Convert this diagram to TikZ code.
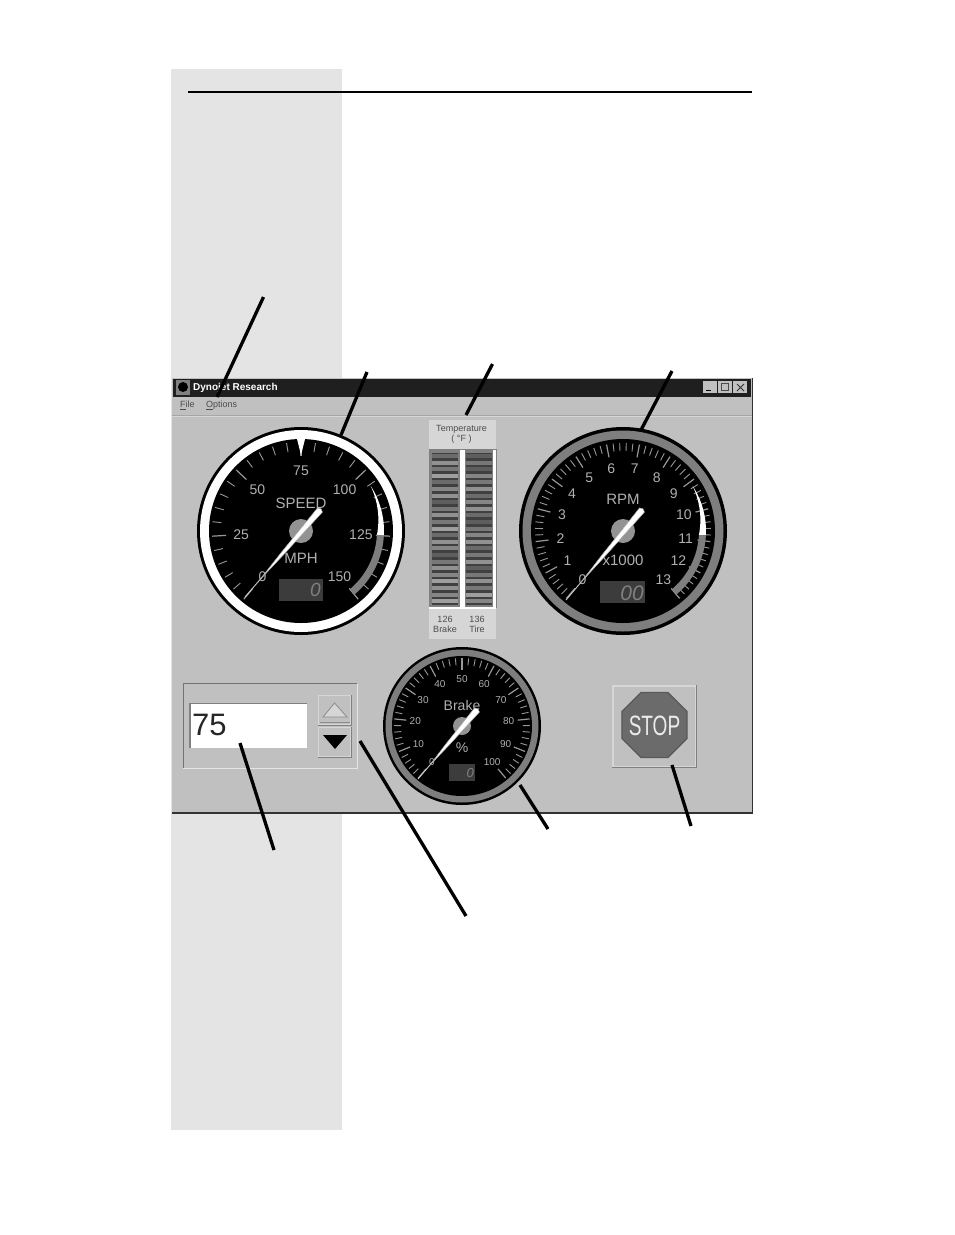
\documentclass[tikz,border=0pt]{standalone}
\usepackage{fontspec}
\usepackage{graphicx}
\setmainfont{Liberation Sans}
\usetikzlibrary{calc,shapes.geometric}
\definecolor{winbg}{HTML}{C0C0C0}
\definecolor{winlight}{HTML}{D6D6D6}
\definecolor{panelbg}{HTML}{E4E4E4}
\definecolor{dial}{HTML}{B0B0B0}
\definecolor{tickc}{HTML}{989898}
\definecolor{ringgray}{HTML}{7E7E7E}
\definecolor{lcd}{HTML}{3C3C3C}
\definecolor{lcdtxt}{HTML}{808080}
\newcommand{\fsz}[1]{\fontsize{#1}{#1}\selectfont}
\tikzset{
  callout/.style={line width=3.3pt,black,line cap=butt},
  dialtext/.style={text=dial,inner sep=0pt},
  lcdtext/.style={text=lcdtxt,inner sep=0pt},
  wintext/.style={text=black!70,inner sep=0pt,align=center},
  minortick/.style={draw=tickc,line width=.9pt},
  majortick/.style={draw=tickc,line width=1.2pt},
  handbody/.style={fill=white,draw=gray!70,line width=.5pt},
  lcdbox/.style={fill=lcd,draw=none,inner sep=0pt},
}
% ticks: intervals, every, minor in, major in, out
\newcommand{\gticks}[5]{%
  \foreach \i in {0,...,#1}{%
    \pgfmathsetmacro\a{230-(280/#1)*\i}%
    \pgfmathtruncatemacro\m{mod(\i,#2)}%
    \ifnum\m=0
      \draw[majortick] (-\a:#4) -- (-\a:#5);
    \else
      \draw[minortick] (-\a:#3) -- (-\a:#5);
    \fi}}
% hand: name, tail, tip
\newcommand{\ghand}[3]{%
  \coordinate (#1t) at (#2); \coordinate (#1p) at (#3);
  \draw[white!80!black,line width=.9pt] (#1t) -- ($(#1t)!.3!(#1p)$);
  \draw[handbody] ($(#1t)!.2!(#1p)$)
    -- ($(#1t)!.5!(#1p)!1.6pt!90:(#1p)$)
    -- ($(#1p)!3.2pt!-90:(#1t)$)
    -- ($(#1p)!1.5pt!180:(#1t)$)
    -- ($(#1p)!3.2pt!90:(#1t)$)
    -- ($(#1t)!.5!(#1p)!1.6pt!-90:(#1p)$)
    -- cycle;
}
% red zone: radius, white from, white to, gray to, maxwidth
\newcommand{\gzone}[5]{%
  \fill[white] plot[domain=#2:#3,samples=16] (-\x:#1)
     -- plot[domain=#3:#2,samples=16] ({-\x}:{#1-#5*(#2-\x)/(#2-#3)}) -- cycle;
  \draw[ringgray,line width=#5 pt] plot[domain=#3:#4,samples=20] ({-\x}:{#1-#5/2});
}
\begin{document}
\begin{tikzpicture}[x=1pt,y=-1pt]
\useasboundingbox (0,0) rectangle (954,1235);
\fill[white] (0,0) rectangle (954,1235);
% side panel and rule
\fill[panelbg] (171,69) rectangle (342,1130);
\draw[black,line width=2pt] (188,92) -- (752,92);
% window
\fill[winbg] (172,378) rectangle (752,813);
\draw[black!80,line width=1.4pt] (172,813) -- (752.5,813) -- (752.5,378);
\fill[black!88] (173,379) rectangle (751,397);
\draw[gray!70] (172,415) -- (752,415);
\draw[winlight,line width=.5pt] (172,416) -- (752,416);
\fill[gray] (176,380) rectangle (190,395);
\fill[black] (183,387) circle[radius=5];
\node[anchor=west,text=white,inner sep=0pt,font=\fsz{10}\bfseries] (title) at (193,387.5) {Dynojet Research};
\foreach \bx in {703,718,733}{
  \fill[winbg] (\bx,381) rectangle ++(14,12);
}
\draw[black,line width=1pt] (706,390) -- (711,390);
\draw[black!70,line width=.8pt] (721,383.5) rectangle (728,390);
\draw[black!80,line width=1pt] (737,384) -- (744,391) (744,384) -- (737,391);
\node[anchor=west,wintext,font=\fsz{9}] (mfile) at (180,405.5) {\underline{F}ile};
\node[anchor=west,wintext,font=\fsz{9}] (mopt) at (206,405.5) {\underline{O}ptions};

% SPEED gauge
\begin{scope}[shift={(301,531)}]
  \fill[black] (0,0) circle[radius=104];
  \fill[white] (0,0) circle[radius=101];
  \fill[black] (0,0) circle[radius=92];
  \gticks{30}{5}{80}{75}{89}
  \fill[white] (-4,-92) -- (4,-92) -- (0,-76) -- cycle;
  \gzone{83}{33}{-3}{-50}{7}
  \foreach \t [count=\c from 0] in {0,25,50,75,100,125,150}{
    \pgfmathsetmacro\a{230-280*\c/6}
    \node[dialtext,font=\fsz{14}] (spl\c) at (-\a:60) {\t};
  }
  \node[dialtext,font=\fsz{15}] (spt) at (0,-28) {SPEED};
  \node[dialtext,font=\fsz{15}] (spm) at (0,27) {MPH};
  \node[lcdbox,minimum width=44pt,minimum height=22pt,anchor=north west] (spd) at (-22,48) {};
  \node[lcdtext,font=\fsz{19}\itshape,anchor=east] (spv) at (20,59) {0};
  \fill[gray!85] (0,0) circle[radius=12];
\end{scope}
\ghand{sh}{245,597}{320,510}

% RPM gauge
\begin{scope}[shift={(623,531)}]
  \fill[black] (0,0) circle[radius=104];
  \fill[ringgray] (0,0) circle[radius=100.5];
  \fill[black] (0,0) circle[radius=92];
  \gticks{65}{5}{80}{75}{88}
  \gzone{83}{33}{-3}{-50}{7}
  \foreach \t [count=\c from 0] in {0,1,2,3,4,5,6,7,8,9,10,11,12,13}{
    \pgfmathsetmacro\a{230-280*\c/13}
    \node[dialtext,font=\fsz{14}] (rpl\c) at (-\a:63) {\t};
  }
  \node[dialtext,font=\fsz{15}] (rpt) at (0,-32) {RPM};
  \node[dialtext,font=\fsz{15}] (rpm) at (0,29) {x1000};
  \node[lcdbox,minimum width=45pt,minimum height=22pt,anchor=north west] (rpd) at (-23,50) {};
  \node[lcdtext,font=\fsz{21}\itshape,anchor=east] (rpv) at (21,62) {00};
  \fill[gray!85] (0,0) circle[radius=12];
\end{scope}
\ghand{rh}{566,600}{642,510}

% Brake gauge
\begin{scope}[shift={(462,726)}]
  \fill[black] (0,0) circle[radius=79];
  \fill[ringgray] (0,0) circle[radius=76.5];
  \fill[black] (0,0) circle[radius=70];
  \gticks{50}{5}{61}{56}{68}
  \foreach \t [count=\c from 0] in {0,10,20,30,40,50,60,70,80,90,100}{
    \pgfmathsetmacro\a{230-280*\c/10}
    \node[dialtext,font=\fsz{10}] (bkl\c) at (-\a:47) {\t};
  }
  \node[dialtext,font=\fsz{14}] (bkt) at (0,-21) {Brake};
  \node[dialtext,font=\fsz{14}] (bkm) at (0,22) {\%};
  \node[lcdbox,minimum width=26pt,minimum height=17pt,anchor=north west] (bkd) at (-13,38) {};
  \node[lcdtext,font=\fsz{13}\itshape,anchor=east] (bkv) at (12,47) {0};
  \fill[gray!85] (0,0) circle[radius=9];
\end{scope}
\ghand{bh}{418,779}{477,710}

% Temperature panel
\fill[winlight] (429,420) rectangle (496,449);
\node[wintext,font=\fsz{9}] (ttl) at (461.5,434.5) {Temperature\\[1pt]( °F )};
\fill[gray] (429,449) rectangle (497,608);
\fill[white] (459.5,450) rectangle (464.5,608);
\fill[white] (493,450) rectangle (496,608);
\fill[white] (429,606.5) rectangle (496,609);
\fill[black!75] (432,453) rectangle (458,605);
\fill[black!75] (466,453) rectangle (492,605);
\foreach \n/\sa/\sb in {0/50/55,1/35/45,2/45/55,3/30/40,4/50/45,5/40/35,6/35/50,7/55/40,8/45/35,9/35/50,10/45/55,11/30/45,12/50/40,13/35/35,14/40/50,15/55/45,16/45/35,17/35/55,18/40/45,19/30/35,20/35/45,21/40/30,22/30/40}{
  \pgfmathsetmacro\yy{454+6.6*\n}
  \pgfmathtruncatemacro\ca{\sa+8}
  \pgfmathtruncatemacro\cb{\sb+8}
  \fill[black!\ca] (432,\yy) rectangle (458,\yy+4);
  \fill[black!\cb] (466,\yy) rectangle (492,\yy+4);
}
\fill[winlight] (429,609) rectangle (496,639);
\node[wintext,font=\fsz{9}] (brk) at (445,624.5) {126\\[1pt]Brake};
\node[wintext,font=\fsz{9}] (tir) at (477,624.5) {136\\[1pt]Tire};

% Speed input group
\draw[gray!90!black,line width=1pt] (183,768) -- (183,683.5) -- (357,683.5);
\draw[white!90!black,line width=1pt] (183,768) -- (357,768) -- (357,683.5);
\node[fill=white,draw=none,minimum width=116pt,minimum height=44pt,anchor=north west,inner sep=0pt] (field) at (191,704) {};
\draw[gray,line width=1.2pt] (190,748) -- (190,703.5) -- (307,703.5);
\node[anchor=west,inner sep=0pt,text=black!85,font=\fsz{31}] (val) at (192,725) {75};
\fill[winlight] (318,695) rectangle (351,725);
\draw[gray,line width=.8pt] (318,725) -- (351,725) -- (351,695);
\fill[winbg] (319,696) rectangle (350,724);
\draw[gray!90,line width=.8pt,fill=winlight] (323,717) -- (334.5,703) -- (347,717) -- cycle;
\draw[gray!90,line width=.6pt] (320,722) -- (350,722);
\fill[winlight] (318,727) rectangle (351,757);
\draw[gray,line width=.8pt] (318,757) -- (351,757) -- (351,727);
\fill[winbg] (319,728) rectangle (350,756);
\fill[black] (323,735) -- (347,735) -- (335,749) -- cycle;

% STOP button
\fill[winlight] (612,685) rectangle (696,767);
\fill[winbg] (614,687) rectangle (695,766);
\draw[gray,line width=1pt] (612,767) -- (696.5,767) -- (696.5,685);
\node[regular polygon,regular polygon sides=8,minimum size=70.4pt,inner sep=0pt,fill=black!58,draw=black!65,line width=1.2pt] (stopoct) at (654.5,725) {};
\node[inner sep=0pt,text=white!92!black,font=\fsz{28}] (stoptxt) at (654.5,726) {\scalebox{.68}[1]{STOP}};

% connectors
\coordinate (a1) at (263.5,297); \coordinate (b1) at (217,397);
\coordinate (a2) at (367,372);   \coordinate (b2) at (341,435);
\coordinate (a3) at (492.5,364); \coordinate (b3) at (466,415);
\coordinate (a4) at (672,371);   \coordinate (b4) at (641,430);
\coordinate (a5) at (240,743);   \coordinate (b5) at (274,850);
\coordinate (a6) at (360,741);   \coordinate (b6) at (466,916);
\coordinate (a7) at (520,785);   \coordinate (b7) at (548,829);
\coordinate (a8) at (672,765);   \coordinate (b8) at (691,826);
\foreach \k in {1,...,8}{\draw[callout] (a\k) -- (b\k);}
\end{tikzpicture}
\end{document}
